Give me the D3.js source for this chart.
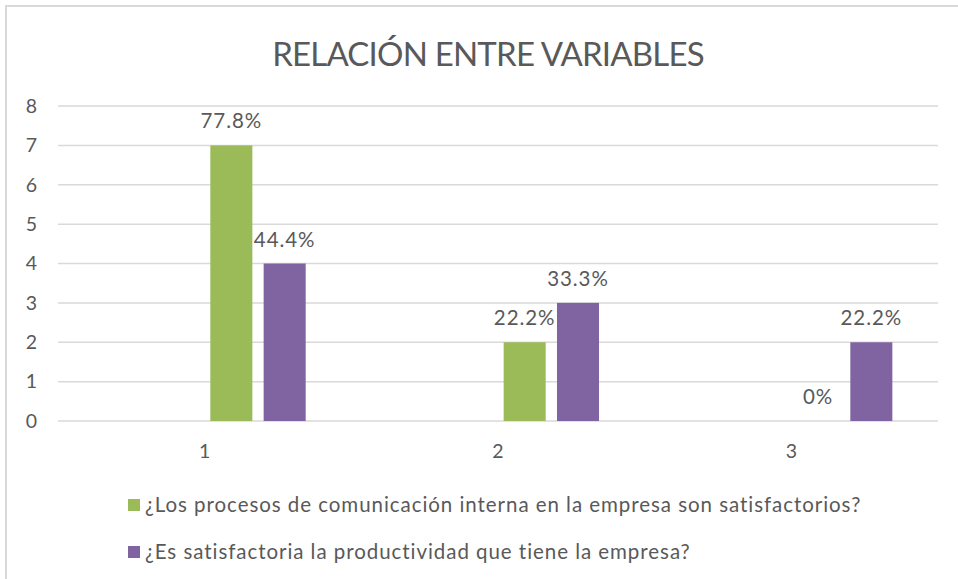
<!DOCTYPE html>
<html>
<head>
<meta charset="utf-8">
<script src="https://cdn.jsdelivr.net/npm/d3@7"></script>
<style>
  body { margin: 0; background: #fff; }
  text { font-family: Lato, "Open Sans", sans-serif; fill: #595959; }
</style>
</head>
<body>
<div id="chart"></div>
<script>
// Data
var categories = ["1", "2", "3"];
var seriesNames = [
  "¿Los procesos de comunicación interna en la empresa son satisfactorios?",
  "¿Es satisfactoria la productividad que tiene la empresa?"
];
var comunicacion = [7, 2, 0];
var productividad = [4, 3, 2];
var comunicacionLabels = ["77.8%", "22.2%", "0%"];
var productividadLabels = ["44.4%", "33.3%", "22.2%"];
var yTicks = [0, 1, 2, 3, 4, 5, 6, 7, 8];
var title = "RELACIÓN ENTRE VARIABLES";

var colors = ["#9BBB59", "#8064A2"];

var W = 958, H = 579;
var margin = {'top': 106, 'right': 20, 'left': 58, 'bottom': 158},
    width = W - margin.left - margin.right,
    height = H - margin.top - margin.bottom;

var svg = d3.select('#chart').append('svg')
  .attr('width', W)
  .attr('height', H);

// chart border (only top/left visible in the picture)
svg.append("rect")
  .attr("x", 6).attr("y", 6)
  .attr("width", W + 10).attr("height", H + 10)
  .attr("fill", "none")
  .attr("stroke", "#d9d9d9")
  .attr("stroke-width", 2);

svg.append("text")
  .attr("x", 488).attr("y", 66)
  .attr("text-anchor", "middle")
  .style("font-size", "33px")
  .style("letter-spacing", "-0.8px")
  .text(title);

var g = svg.append("g")
  .attr('transform', 'translate(' + margin.left + ',' + margin.top + ')');

var x0 = d3.scaleBand().domain(categories).range([0, width]);
// excel reserves 4 slots per category, the two series sit in the last two
var x1 = d3.scaleBand().domain([0, 1, 2, 3]).range([0, x0.bandwidth()])
  .paddingInner(0.212).paddingOuter(0.856);
var y = d3.scaleLinear().domain([0, 8]).range([height, 0]);

// gridlines
g.selectAll(".grid")
  .data(yTicks)
  .enter().append("line")
    .attr("x1", 0).attr("x2", width)
    .attr("y1", function(d) { return y(d); })
    .attr("y2", function(d) { return y(d); })
    .attr("stroke", "#d9d9d9")
    .attr("stroke-width", 1.5);

var yAxis = d3.axisLeft(y).tickValues(yTicks).tickSize(0).tickPadding(21);
g.append("g").call(yAxis)
  .call(function(a) { a.select(".domain").remove(); })
  .selectAll("text")
    .style("font-size", "19.5px")
    .attr("fill", "#595959");

var xAxis = d3.axisBottom(x0).tickSize(0).tickPadding(23);
g.append("g")
  .attr("transform", "translate(0," + height + ")")
  .call(xAxis)
  .call(function(a) { a.select(".domain").remove(); })
  .selectAll("text")
    .style("font-size", "19.5px")
    .attr("fill", "#595959");

var series = [
  {name: seriesNames[0], values: comunicacion, labels: comunicacionLabels, slot: 2, color: colors[0]},
  {name: seriesNames[1], values: productividad, labels: productividadLabels, slot: 3, color: colors[1]}
];

series.forEach(function(s) {
  var sg = g.append("g");
  sg.selectAll("rect")
    .data(s.values)
    .enter().append("rect")
      .attr("x", function(d, i) { return x0(categories[i]) + x1(s.slot); })
      .attr("y", function(d) { return y(d); })
      .attr("width", x1.bandwidth())
      .attr("height", function(d) { return y(0) - y(d); })
      .attr("fill", s.color);

  sg.selectAll("text")
    .data(s.values)
    .enter().append("text")
      .attr("x", function(d, i) { return x0(categories[i]) + x1(s.slot) + x1.bandwidth() / 2; })
      .attr("y", function(d) { return y(d) - 17; })
      .attr("text-anchor", "middle")
      .style("font-size", "20.5px")
      .style("letter-spacing", "0.95px")
      .text(function(d, i) { return s.labels[i]; });
});

// legend
var legend = svg.selectAll(".legend")
  .data(series)
  .enter().append("g")
    .attr("class", "legend")
    .attr("transform", function(d, i) { return "translate(128," + (499 + i * 47) + ")"; });

legend.append("rect")
  .attr("width", 12).attr("height", 12)
  .attr("fill", function(d) { return d.color; });

legend.append("text")
  .attr("x", 17).attr("y", 13)
  .style("font-size", "20.5px")
  .style("letter-spacing", "0.95px")
  .text(function(d) { return d.name; });
</script>
</body>
</html>
